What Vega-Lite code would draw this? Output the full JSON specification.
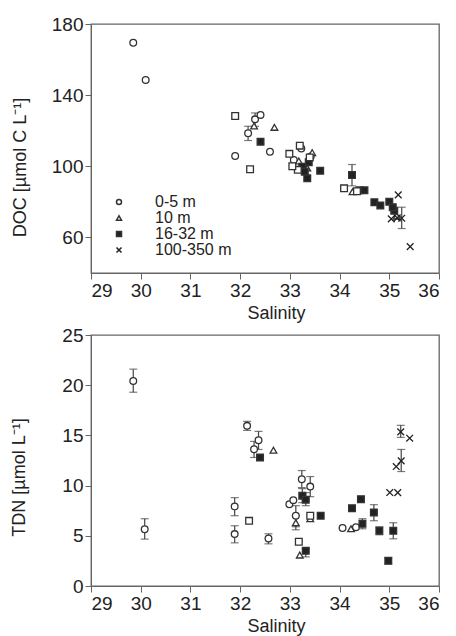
{
  "$schema": "https://vega.github.io/schema/vega-lite/v6.json",
  "padding": {"left": 10, "top": 14, "right": 5, "bottom": 5},
  "spacing": 2,
  "config": {
    "font": "Liberation Sans",
    "view": {"stroke": "#666", "strokeWidth": 1.3},
    "axis": {"labelFontSize": 19, "titleFontSize": 18, "titleFontWeight": "normal", "labelColor": "#222", "titleColor": "#222", "domainColor": "#666", "tickColor": "#666", "tickSize": 6, "grid": false, "labelPadding": 2, "labelOverlap": false},
    "legend": {"labelFontSize": 16, "labelColor": "#222"}
  },
  "datasets": {
    "doc": [
      {"s": 29.85, "v": 169.5, "depth": "0-5 m"},
      {"s": 30.1, "v": 148.5, "depth": "0-5 m"},
      {"s": 31.9, "v": 105.8, "depth": "0-5 m"},
      {"s": 32.16, "v": 118.6, "depth": "0-5 m", "lo": 114.5, "hi": 122.5},
      {"s": 32.3, "v": 126.4, "depth": "0-5 m", "lo": 122.5, "hi": 130},
      {"s": 32.41, "v": 128.9, "depth": "0-5 m"},
      {"s": 32.6, "v": 108.2, "depth": "0-5 m"},
      {"s": 33.08, "v": 103.5, "depth": "0-5 m"},
      {"s": 33.23, "v": 110, "depth": "0-5 m"},
      {"s": 33.42, "v": 105.5, "depth": "0-5 m"},
      {"s": 32.28, "v": 122.7, "depth": "10 m"},
      {"s": 32.69, "v": 121.9, "depth": "10 m"},
      {"s": 33.45, "v": 107.7, "depth": "10 m"},
      {"s": 33.18, "v": 103, "depth": "10 m"},
      {"s": 34.26, "v": 85.7, "depth": "10 m"},
      {"s": 33.35, "v": 99, "depth": "10 m"},
      {"s": 35.15, "v": 72, "depth": "10 m"},
      {"s": 32.41, "v": 113.8, "depth": "16-32 m"},
      {"s": 33.25, "v": 99.8, "depth": "16-32 m"},
      {"s": 33.38, "v": 102.3, "depth": "16-32 m"},
      {"s": 33.35, "v": 93.3, "depth": "16-32 m"},
      {"s": 33.3, "v": 97, "depth": "16-32 m"},
      {"s": 33.61, "v": 97.5, "depth": "16-32 m"},
      {"s": 34.25, "v": 95.1, "depth": "16-32 m", "lo": 89, "hi": 101},
      {"s": 34.4, "v": 86.5, "depth": "16-32 m"},
      {"s": 34.5, "v": 86.5, "depth": "16-32 m"},
      {"s": 34.7, "v": 79.8, "depth": "16-32 m"},
      {"s": 34.82, "v": 78, "depth": "16-32 m"},
      {"s": 35.0, "v": 80.1, "depth": "16-32 m"},
      {"s": 35.1, "v": 75, "depth": "16-32 m"},
      {"s": 35.07, "v": 77, "depth": "16-32 m"},
      {"s": 31.9, "v": 128.3, "depth": "other"},
      {"s": 32.2, "v": 98.3, "depth": "other"},
      {"s": 32.99, "v": 107, "depth": "other"},
      {"s": 33.16, "v": 98, "depth": "other"},
      {"s": 33.2, "v": 111.6, "depth": "other"},
      {"s": 33.4, "v": 105, "depth": "other"},
      {"s": 34.09, "v": 87.6, "depth": "other"},
      {"s": 34.35, "v": 86, "depth": "other"},
      {"s": 33.05, "v": 100, "depth": "other"},
      {"s": 35.18, "v": 83.9, "depth": "100-350 m"},
      {"s": 35.04, "v": 70.4, "depth": "100-350 m"},
      {"s": 35.16, "v": 71, "depth": "100-350 m"},
      {"s": 35.25, "v": 70.8, "depth": "100-350 m", "lo": 65, "hi": 77},
      {"s": 35.42, "v": 54.8, "depth": "100-350 m"}
    ],
    "tdn": [
      {"s": 29.85, "v": 20.42, "depth": "0-5 m", "lo": 19.3, "hi": 21.6},
      {"s": 30.08, "v": 5.66, "depth": "0-5 m", "lo": 4.67, "hi": 6.7},
      {"s": 31.89, "v": 7.92, "depth": "0-5 m", "lo": 7.0, "hi": 8.8},
      {"s": 31.89, "v": 5.17, "depth": "0-5 m", "lo": 4.3, "hi": 6.0},
      {"s": 32.14, "v": 15.95, "depth": "0-5 m", "lo": 15.5, "hi": 16.4},
      {"s": 32.28, "v": 13.62, "depth": "0-5 m", "lo": 12.8, "hi": 14.4},
      {"s": 32.37, "v": 14.52, "depth": "0-5 m", "lo": 13.6, "hi": 15.4},
      {"s": 32.57, "v": 4.73, "depth": "0-5 m", "lo": 4.2, "hi": 5.2},
      {"s": 32.99, "v": 8.15, "depth": "0-5 m"},
      {"s": 33.07, "v": 8.55, "depth": "0-5 m"},
      {"s": 33.24, "v": 10.64, "depth": "0-5 m", "lo": 9.8, "hi": 11.5},
      {"s": 33.12, "v": 6.99, "depth": "0-5 m", "lo": 5.9, "hi": 8.0},
      {"s": 33.41, "v": 9.9, "depth": "0-5 m", "lo": 8.9, "hi": 10.9},
      {"s": 34.06, "v": 5.77, "depth": "0-5 m"},
      {"s": 34.33, "v": 5.85, "depth": "0-5 m"},
      {"s": 32.67, "v": 13.53, "depth": "10 m"},
      {"s": 33.12, "v": 6.3, "depth": "10 m", "lo": 5.6, "hi": 7.0},
      {"s": 33.2, "v": 3.08, "depth": "10 m"},
      {"s": 34.23, "v": 5.7, "depth": "10 m"},
      {"s": 33.41, "v": 6.7, "depth": "10 m"},
      {"s": 32.4, "v": 12.79, "depth": "16-32 m"},
      {"s": 33.25, "v": 9.0, "depth": "16-32 m", "lo": 8.3, "hi": 9.7},
      {"s": 33.32, "v": 8.6, "depth": "16-32 m", "lo": 8.0, "hi": 9.3},
      {"s": 33.32, "v": 3.5, "depth": "16-32 m", "lo": 2.9, "hi": 3.7},
      {"s": 33.62, "v": 7.0, "depth": "16-32 m"},
      {"s": 34.25, "v": 7.75, "depth": "16-32 m"},
      {"s": 34.43, "v": 8.65, "depth": "16-32 m"},
      {"s": 34.46, "v": 6.2, "depth": "16-32 m", "lo": 5.7, "hi": 6.7},
      {"s": 34.69, "v": 7.33, "depth": "16-32 m", "lo": 6.5, "hi": 8.1},
      {"s": 34.8, "v": 5.5, "depth": "16-32 m", "lo": 5.1, "hi": 5.9},
      {"s": 34.98, "v": 2.51, "depth": "16-32 m", "lo": 2.2, "hi": 2.8},
      {"s": 35.08, "v": 5.5, "depth": "16-32 m", "lo": 4.7, "hi": 6.3},
      {"s": 32.18, "v": 6.49, "depth": "other"},
      {"s": 33.18, "v": 4.4, "depth": "other"},
      {"s": 33.41, "v": 7.0, "depth": "other"},
      {"s": 35.01, "v": 9.31, "depth": "100-350 m"},
      {"s": 35.17, "v": 9.3, "depth": "100-350 m"},
      {"s": 35.14, "v": 11.9, "depth": "100-350 m"},
      {"s": 35.24, "v": 12.46, "depth": "100-350 m", "lo": 11.4, "hi": 13.6},
      {"s": 35.23, "v": 15.35, "depth": "100-350 m", "lo": 14.8, "hi": 16.0},
      {"s": 35.41, "v": 14.72, "depth": "100-350 m"}
    ],
    "labels": [
      {"panel": "a", "text": "a."},
      {"panel": "b", "text": "b."}
    ]
  },
  "vconcat": [
    {
      "width": 348,
      "height": 249,
      "encoding": {
        "x": {"field": "s", "type": "quantitative", "title": "Salinity", "scale": {"domain": [29, 36], "nice": false, "zero": false},
          "axis": {"values": [29, 30, 31, 32, 33, 34, 35, 36], "format": "d", "titleX": 185}}
      },
      "layer": [
        {
          "data": {"name": "doc"},
          "transform": [{"filter": "isValid(datum.lo)"}],
          "mark": {"type": "errorbar", "ticks": {"size": 8}, "color": "#444", "thickness": 1.2},
          "encoding": {
            "y": {"field": "lo", "type": "quantitative", "title": "DOC [µmol C L⁻¹]", "scale": {"domain": [40, 180], "nice": false, "zero": false},
              "axis": {"values": [60, 100, 140, 180], "titleY": 143, "titlePadding": 22}},
            "y2": {"field": "hi"}
          }
        },
        {
          "data": {"name": "doc"},
          "mark": {"type": "point", "size": 45, "strokeWidth": 1.3, "opacity": 1},
          "encoding": {
            "y": {"field": "v", "type": "quantitative", "title": "DOC [µmol C L⁻¹]", "scale": {"domain": [40, 180], "nice": false, "zero": false},
              "axis": {"values": [60, 100, 140, 180], "titleY": 143, "titlePadding": 22}},
            "shape": {"field": "depth", "type": "nominal",
              "scale": {"domain": ["0-5 m", "10 m", "16-32 m", "100-350 m", "other"], "range": ["circle", "triangle-up", "square", "M-1,-1L1,1M-1,1L1,-1", "square"]},
              "legend": {"values": ["0-5 m", "10 m", "16-32 m", "100-350 m"], "title": null, "orient": "none", "legendX": 20, "legendY": 170, "symbolSize": 25, "symbolStrokeWidth": 1.5, "rowPadding": 0, "labelOffset": 28}},
            "fill": {"field": "depth", "type": "nominal",
              "scale": {"domain": ["0-5 m", "10 m", "16-32 m", "100-350 m", "other"], "range": ["#fff", "#fff", "#222", "#222", "#fff"]},
              "legend": {"values": ["0-5 m", "10 m", "16-32 m", "100-350 m"], "title": null, "orient": "none", "legendX": 20, "legendY": 170, "symbolSize": 25, "symbolStrokeWidth": 1.5, "rowPadding": 0, "labelOffset": 28}},
            "stroke": {"field": "depth", "type": "nominal",
              "scale": {"domain": ["0-5 m", "10 m", "16-32 m", "100-350 m", "other"], "range": ["#333", "#333", "#333", "#222", "#333"]},
              "legend": {"values": ["0-5 m", "10 m", "16-32 m", "100-350 m"], "title": null, "orient": "none", "legendX": 20, "legendY": 170, "symbolSize": 25, "symbolStrokeWidth": 1.5, "rowPadding": 0, "labelOffset": 28}}
          }
        },
        {
          "data": {"name": "labels"},
          "transform": [{"filter": "datum.panel == 'a'"}],
          "mark": {"type": "text", "fontSize": 20, "color": "#222", "font": "Liberation Sans"},
          "encoding": {
            "text": {"field": "text"},
            "x": {"datum": 35.72},
            "y": {"datum": 166}
          }
        }
      ]
    },
    {
      "width": 348,
      "height": 251,
      "encoding": {
        "x": {"field": "s", "type": "quantitative", "title": "Salinity", "scale": {"domain": [29, 36], "nice": false, "zero": false},
          "axis": {"values": [29, 30, 31, 32, 33, 34, 35, 36], "format": "d", "titleX": 185}}
      },
      "layer": [
        {
          "data": {"name": "tdn"},
          "transform": [{"filter": "isValid(datum.lo)"}],
          "mark": {"type": "errorbar", "ticks": {"size": 8}, "color": "#444", "thickness": 1.2},
          "encoding": {
            "y": {"field": "lo", "type": "quantitative", "title": "TDN [µmol L⁻¹]", "scale": {"domain": [0, 25], "nice": false},
              "axis": {"values": [0, 5, 10, 15, 20, 25], "titleY": 142, "titlePadding": 33}},
            "y2": {"field": "hi"}
          }
        },
        {
          "data": {"name": "tdn"},
          "mark": {"type": "point", "size": 45, "strokeWidth": 1.3, "opacity": 1},
          "encoding": {
            "y": {"field": "v", "type": "quantitative", "title": "TDN [µmol L⁻¹]", "scale": {"domain": [0, 25], "nice": false},
              "axis": {"values": [0, 5, 10, 15, 20, 25], "titleY": 142, "titlePadding": 33}},
            "shape": {"field": "depth", "type": "nominal",
              "scale": {"domain": ["0-5 m", "10 m", "16-32 m", "100-350 m", "other"], "range": ["circle", "triangle-up", "square", "M-1,-1L1,1M-1,1L1,-1", "square"]},
              "legend": null},
            "fill": {"field": "depth", "type": "nominal",
              "scale": {"domain": ["0-5 m", "10 m", "16-32 m", "100-350 m", "other"], "range": ["#fff", "#fff", "#222", "#222", "#fff"]},
              "legend": null},
            "stroke": {"field": "depth", "type": "nominal",
              "scale": {"domain": ["0-5 m", "10 m", "16-32 m", "100-350 m", "other"], "range": ["#333", "#333", "#333", "#222", "#333"]},
              "legend": null}
          }
        },
        {
          "data": {"name": "labels"},
          "transform": [{"filter": "datum.panel == 'b'"}],
          "mark": {"type": "text", "fontSize": 20, "color": "#222", "font": "Liberation Sans"},
          "encoding": {
            "text": {"field": "text"},
            "x": {"datum": 35.72},
            "y": {"datum": 22.7}
          }
        }
      ]
    }
  ]
}
